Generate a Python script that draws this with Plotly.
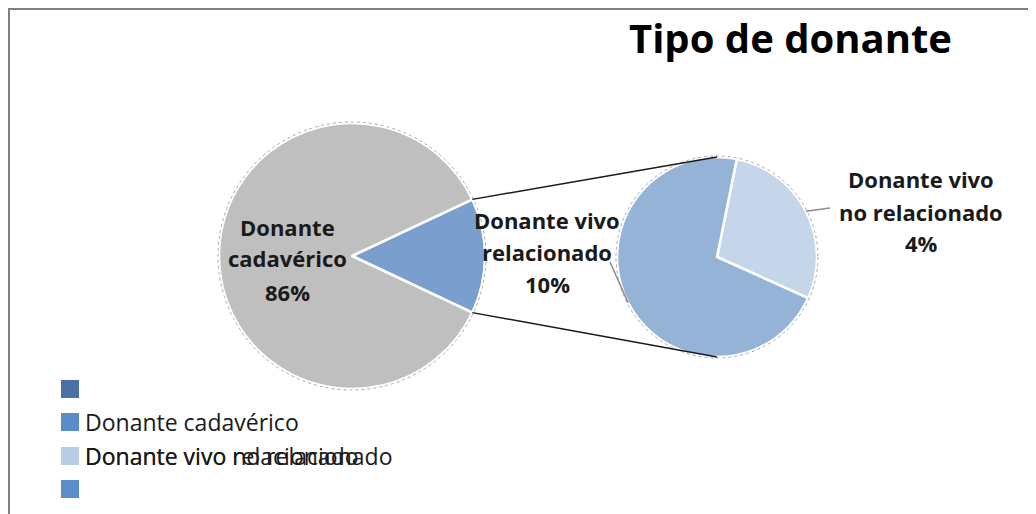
import math
import plotly.graph_objects as go

# ---------------- data ----------------
title_text = "Tipo de donante"
categories = ["Donante cadavérico", "Donante vivo relacionado", "Donante vivo no relacionado"]
values = [86, 10, 4]
main_labels = ["Otros", "Donante cadavérico"]
second_labels = ["Donante vivo no relacionado", "Donante vivo relacionado"]
legend_rows = [[""], ["Donante cadavérico"],
               ["Donante vivo relacionado", "Donante vivo no relacionado"], [""]]

# ---------------- style ----------------
OFF = 8  # page body margin in the browser
W, H = 1036 - OFF, 514 - OFF
FONT = "Open Sans"
c_gray = "#BFBFBF"
c_main_blue = "#7A9FCE"
c_dark = "#95B3D7"
c_light = "#C6D6EA"
legend_colors = ["#4A70A6", "#5B8BC8", "#B9CDE5", "#5B8CCB"]

def px(x):
    return (x - OFF) / W

def py(y):
    return 1 - (y - OFF) / H

cx1, cy1, r1 = 352, 256, 133
cx2, cy2, r2 = 717, 257, 100

main_vals = [values[1] + values[2], values[0]]
second_vals = [values[2], values[1]]
other_frac = main_vals[0] / sum(main_vals)
half_ang = other_frac * 360 / 2  # degrees, math angle

rot2 = 11.4  # degrees clockwise from 12 o'clock

fig = go.Figure()
fig.add_trace(go.Pie(
    labels=main_labels, values=main_vals, sort=False, direction="clockwise",
    rotation=90 - half_ang,
    marker=dict(colors=[c_main_blue, c_gray], line=dict(color="white", width=2.5)),
    textinfo="none", hoverinfo="label+percent", showlegend=False,
    domain=dict(x=[px(cx1 - r1), px(cx1 + r1)], y=[py(cy1 + r1), py(cy1 - r1)]),
))
fig.add_trace(go.Pie(
    labels=second_labels, values=second_vals, sort=False, direction="clockwise",
    rotation=rot2,
    marker=dict(colors=[c_light, c_dark], line=dict(color="white", width=2.5)),
    textinfo="none", hoverinfo="label+percent", showlegend=False,
    domain=dict(x=[px(cx2 - r2), px(cx2 + r2)], y=[py(cy2 + r2), py(cy2 - r2)]),
))

shapes = []
# chart frame (top and left edges)
shapes.append(dict(type="line", xref="paper", yref="paper", x0=px(8), x1=px(1040),
                   y0=py(9), y1=py(9), line=dict(color="#808080", width=2)))
shapes.append(dict(type="line", xref="paper", yref="paper", x0=px(9), x1=px(9),
                   y0=py(8), y1=py(520), line=dict(color="#808080", width=2)))

# outlines of pies
for cx, cy, r in [(cx1, cy1, r1), (cx2, cy2, r2)]:
    shapes.append(dict(type="circle", xref="paper", yref="paper",
                       x0=px(cx - r - 1), x1=px(cx + r + 1),
                       y0=py(cy + r + 1), y1=py(cy - r - 1),
                       line=dict(color="#A8A8A8", width=1, dash="dot")))

# connector lines
a = math.radians(half_ang)
for s in (1, -1):
    x0 = cx1 + r1 * math.cos(a)
    y0 = cy1 - s * r1 * math.sin(a)
    x1 = cx2
    y1 = cy2 - s * r2
    shapes.append(dict(type="line", xref="paper", yref="paper",
                       x0=px(x0), y0=py(y0), x1=px(x1), y1=py(y1),
                       line=dict(color="#1A1A1A", width=1.5)))

# leader lines
tot2 = sum(second_vals)
start = 90 - rot2
light_mid = start - second_vals[0] / tot2 * 360 / 2
dark_mid = start - second_vals[0] / tot2 * 360 - second_vals[1] / tot2 * 360 / 2
for ang, (ex, ey) in [(light_mid, (830, 208)), (dark_mid, (610, 262))]:
    t = math.radians(ang)
    sx = cx2 + r2 * math.cos(t)
    sy = cy2 - r2 * math.sin(t)
    shapes.append(dict(type="line", xref="paper", yref="paper",
                       x0=px(sx), y0=py(sy), x1=px(ex), y1=py(ey),
                       line=dict(color="#8C8C8C", width=1.5)))

annotations = []
def text_lines(lines, xc, ys, size=22, bold=True):
    for line, y in zip(lines, ys):
        annotations.append(dict(
            text=f"<b>{line}</b>" if bold else line, x=px(xc), y=py(y),
            xref="paper", yref="paper", showarrow=False,
            xanchor="center", yanchor="middle",
            font=dict(family=FONT, size=size, color="#1A1A1A")))

tot = sum(values)
pct = [round(v / tot * 100) for v in values]
text_lines(["Donante", "cadavérico", f"{pct[0]}%"], 287, [227, 258, 292])
text_lines(["Donante vivo", "relacionado", f"{pct[1]}%"], 547, [220, 252, 284])
text_lines(["Donante vivo", "no relacionado", f"{pct[2]}%"], 921, [179, 212, 243])

# title
annotations.append(dict(text=f"<b>{title_text}</b>", x=px(790), y=py(38),
                        xref="paper", yref="paper", showarrow=False,
                        xanchor="center", yanchor="middle",
                        font=dict(family=FONT, size=40, color="black")))

# custom legend
row_y = [389, 422, 456, 489]
for labels_row, col, y in zip(legend_rows, legend_colors, row_y):
    shapes.append(dict(type="rect", xref="paper", yref="paper",
                       x0=px(61), x1=px(79), y0=py(y + 9), y1=py(y - 9),
                       fillcolor=col, line=dict(color=col, width=0)))
    for lab in labels_row:
        if lab:
            annotations.append(dict(text=lab, x=px(83), y=py(y), xref="paper",
                                    yref="paper", showarrow=False,
                                    xanchor="left", yanchor="middle",
                                    font=dict(family=FONT, size=23, color="#1A1A1A")))

fig.update_layout(
    width=W, height=H,
    margin=dict(l=0, r=0, t=0, b=0),
    paper_bgcolor="white", plot_bgcolor="white",
    shapes=shapes, annotations=annotations,
    showlegend=False,
)

fig.write_html("out.html")
